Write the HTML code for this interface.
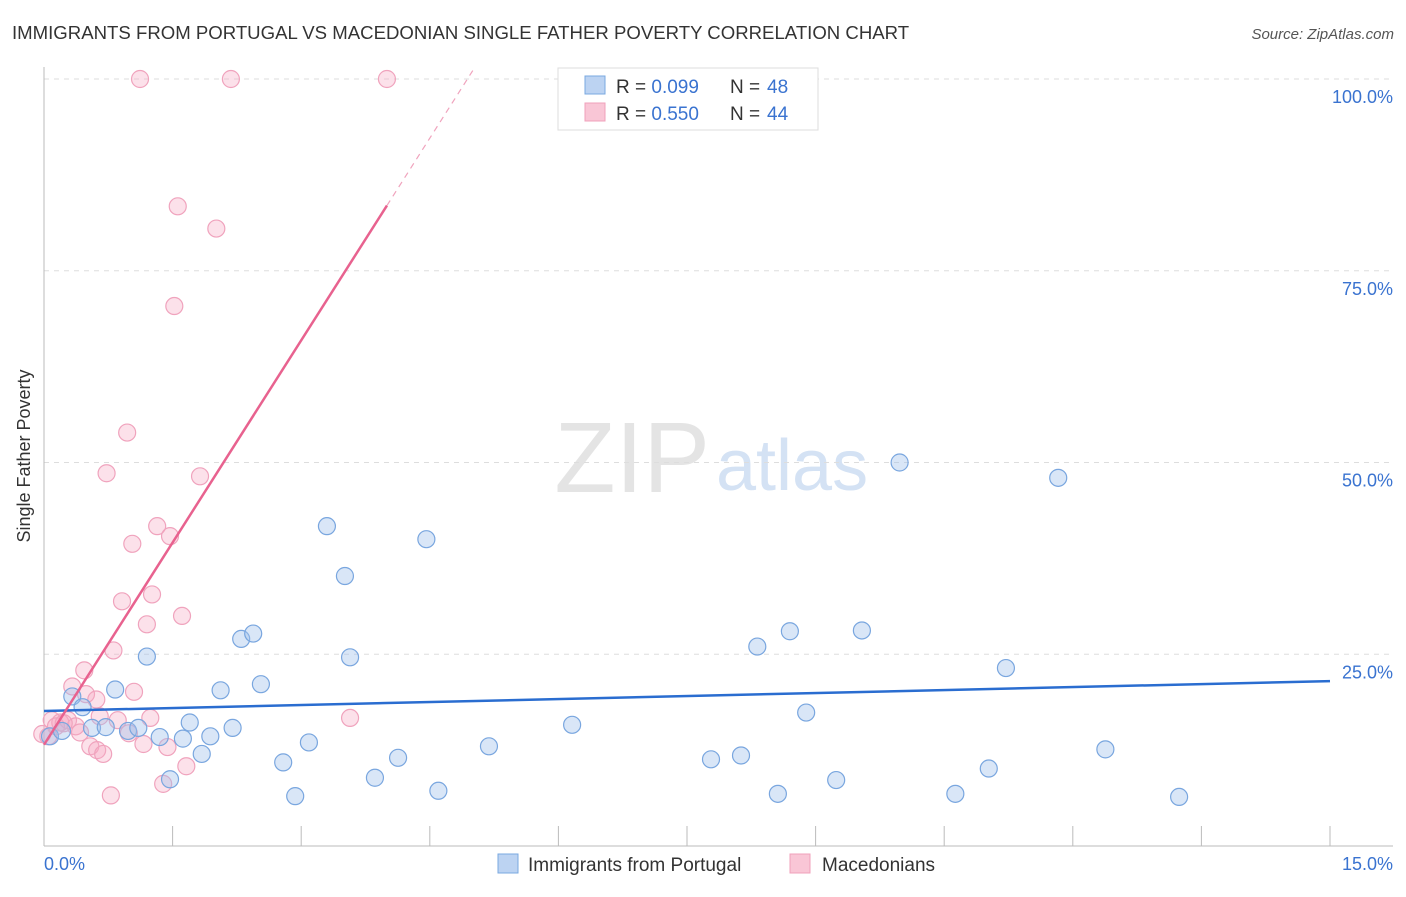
<!DOCTYPE html>
<html><head><meta charset="utf-8"><style>
body{margin:0;background:#fff;font-family:"Liberation Sans",sans-serif;}
svg text{font-family:"Liberation Sans",sans-serif;}
</style></head><body>
<svg id="chart" width="1406" height="892" xmlns="http://www.w3.org/2000/svg">
<text x="12" y="39" font-size="18.6" fill="#333">IMMIGRANTS FROM PORTUGAL VS MACEDONIAN SINGLE FATHER POVERTY CORRELATION CHART</text>
<text x="1394" y="39" font-size="15" fill="#555" font-style="italic" text-anchor="end">Source: ZipAtlas.com</text>
<text x="30" y="456" font-size="18" fill="#333" transform="rotate(-90 30 456)" text-anchor="middle">Single Father Poverty</text>
<text x="710" y="492" font-size="100" fill="#e4e4e4" font-family="Liberation Serif" text-anchor="end">ZIP</text>
<text x="716" y="490" font-size="72" fill="#d4e2f4">atlas</text>
<g id="grid"></g><g id="axes"></g><g id="pts"></g><g id="lines"></g>
<g>
<rect x="558" y="68" width="260" height="62" fill="#fff" stroke="#ddd"/>
<rect x="585" y="76" width="20" height="18" fill="#bcd3f2" stroke="#7aa8e0"/>
<rect x="585" y="103" width="20" height="18" fill="#f9c6d6" stroke="#f0a0bb"/>
<text x="616" y="93" font-size="19" fill="#333">R = <tspan fill="#3a73d0">0.099</tspan></text>
<text x="730" y="93" font-size="19" fill="#333">N = </text><text x="767" y="93" font-size="19" fill="#3a73d0">48</text>
<text x="616" y="120" font-size="19" fill="#333">R = <tspan fill="#3a73d0">0.550</tspan></text>
<text x="730" y="120" font-size="19" fill="#333">N = </text><text x="767" y="120" font-size="19" fill="#3a73d0">44</text>
</g>
<g>
<rect x="498" y="854" width="20" height="19" fill="#bcd3f2" stroke="#7aa8e0"/>
<text x="528" y="871" font-size="19" fill="#333">Immigrants from Portugal</text>
<rect x="790" y="854" width="20" height="19" fill="#f9c6d6" stroke="#f0a0bb"/>
<text x="822" y="871" font-size="19" fill="#333">Macedonians</text>
</g>
</svg>
<script>
const yTicks=[25,50,75,100];
const xTickCount=10;
const blueX=[0.07,0.21,0.33,0.45,0.56,0.72,0.83,0.98,1.10,1.20,1.35,1.47,1.62,1.70,1.84,1.94,2.06,2.20,2.30,2.44,2.53,2.79,2.93,3.09,3.30,3.51,3.57,3.86,4.13,4.46,4.60,5.19,6.16,7.78,8.13,8.32,8.56,8.70,8.89,9.24,9.54,9.98,10.63,11.02,11.22,11.83,12.38,13.24];
const blueY=[14.3,15.0,19.5,18.1,15.4,15.5,20.4,15.0,15.4,24.7,14.2,8.7,14.0,16.1,12.0,14.3,20.3,15.4,27.0,27.7,21.1,10.9,6.5,13.5,41.7,35.2,24.6,8.9,11.5,40.0,7.2,13.0,15.8,11.3,11.8,26.0,6.8,28.0,17.4,8.6,28.1,50.0,6.8,10.1,23.2,48.0,12.6,6.4];
const pinkX=[1.12,2.18,4.00,1.56,2.01,1.52,0.97,0.73,1.82,1.03,1.32,1.47,0.91,1.26,1.61,1.20,0.81,0.47,0.33,0.49,0.61,1.05,0.65,0.86,1.24,3.57,0.09,0.19,0.28,0.37,0.42,0.54,0.62,0.69,0.99,1.16,1.44,1.66,1.39,0.78,0.05,0.14,0.23,-0.02];
const pinkY=[100,100,100,83.4,80.5,70.4,53.9,48.6,48.2,39.4,41.7,40.4,31.9,32.8,30.0,28.9,25.5,22.9,20.8,19.8,19.1,20.1,16.9,16.4,16.7,16.7,16.4,16.1,16.4,15.6,14.8,13.0,12.5,12.0,14.7,13.3,12.9,10.4,8.1,6.6,14.3,15.6,16.0,14.6];
const blueFit=[17.6,21.5];
const pinkFit=[13.2,83.5];
const NS='http://www.w3.org/2000/svg';
const x0=44,x1=1330,yb=846,yt=79;
const sx=v=>x0+v/15*(x1-x0);
const sy=v=>yb-v/100*(yb-yt);
function mk(t,a,p){const e=document.createElementNS(NS,t);for(const k in a)e.setAttribute(k,a[k]);p.appendChild(e);return e;}
const grid=document.getElementById('grid'),axes=document.getElementById('axes'),pts=document.getElementById('pts'),lines=document.getElementById('lines');
yTicks.forEach(t=>{
 const l=mk('line',{x1:x0,x2:1393,y1:sy(t),y2:sy(t),stroke:'#ddd','stroke-dasharray':'5,5'},grid);
 
 
 const tx=mk('text',{x:1393,y:sy(t)+24,'font-size':18,fill:'#3a73d0','text-anchor':'end'},grid);
 tx.textContent=t.toFixed(1)+'%';
 
 
});
let a=mk('line',{x1:x0,x2:x0,y1:67,y2:yb,stroke:'#bbb'},axes);


a=mk('line',{x1:x0,x2:1393,y1:yb,y2:yb,stroke:'#bbb'},axes);


for(let i=1;i<=xTickCount;i++){const x=x0+i*(x1-x0)/xTickCount;const t=mk('line',{x1:x,x2:x,y1:yb-20,y2:yb,stroke:'#bbb'},axes);
 
 }
let t=mk('text',{x:44,y:870,'font-size':18,fill:'#3a73d0'},axes);t.textContent='0.0%';


t=mk('text',{x:1393,y:870,'font-size':18,fill:'#3a73d0','text-anchor':'end'},axes);t.textContent='15.0%';


pinkX.forEach((v,i)=>{const c=mk('circle',{cx:sx(v),cy:sy(pinkY[i]),r:8.5,fill:'rgba(246,170,196,0.35)',stroke:'#f0a3bd','stroke-width':1.2},pts);
 
 });
blueX.forEach((v,i)=>{const c=mk('circle',{cx:sx(v),cy:sy(blueY[i]),r:8.5,fill:'rgba(160,192,236,0.4)',stroke:'#79a6df','stroke-width':1.2},pts);
 
 });
let ln=mk('line',{x1:sx(0),y1:sy(blueFit[0]),x2:sx(15),y2:sy(blueFit[1]),stroke:'#2a6dd0','stroke-width':2.5},lines);


const slope=(pinkFit[1]-pinkFit[0])/4.0;
ln=mk('line',{x1:sx(0),y1:sy(pinkFit[0]),x2:sx(4.0),y2:sy(pinkFit[1]),stroke:'#e8628f','stroke-width':2.5},lines);


const xe=(101.5-pinkFit[0])/slope;
ln=mk('line',{x1:sx(4.0),y1:sy(pinkFit[1]),x2:sx(xe),y2:sy(101.5),stroke:'#f0a3bd','stroke-width':1.2,'stroke-dasharray':'6,5'},lines);


</script>
</body></html>
